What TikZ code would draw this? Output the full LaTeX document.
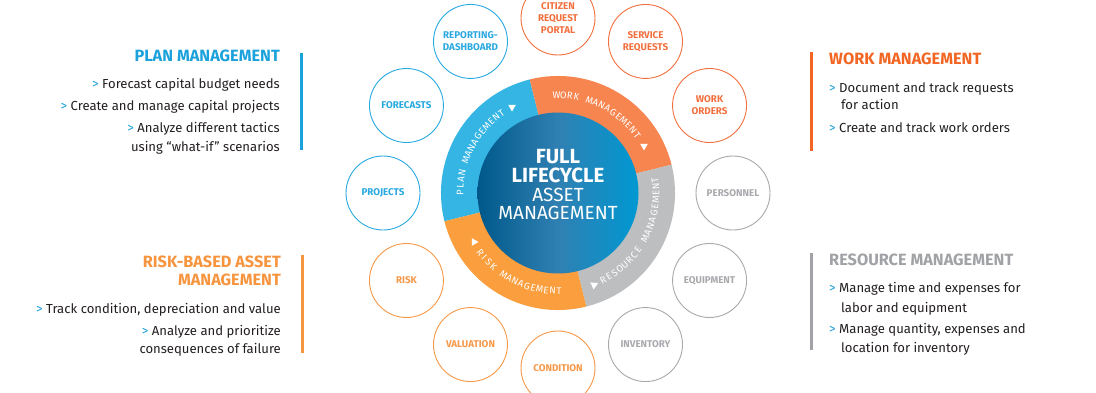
\documentclass[tikz,border=0pt]{standalone}
\usepackage{fontspec}
\setmainfont{Fira Sans}
\usetikzlibrary{shapes.geometric}
\definecolor{planring}{RGB}{53,181,228}
\definecolor{workring}{RGB}{247,133,79}
\definecolor{resring}{RGB}{188,190,192}
\definecolor{riskring}{RGB}{250,158,62}
\definecolor{plantitle}{RGB}{27,161,219}
\definecolor{worktitle}{RGB}{242,101,34}
\definecolor{risktitle}{RGB}{247,148,62}
\definecolor{restitle}{RGB}{160,162,165}
\definecolor{satblue}{RGB}{41,169,224}
\definecolor{satwork}{RGB}{242,112,62}
\definecolor{satrisk}{RGB}{247,152,72}
\definecolor{satgray}{RGB}{167,169,172}
\definecolor{bodytext}{RGB}{35,31,32}
\definecolor{markblue}{RGB}{27,161,219}
\definecolor{coreleft}{RGB}{0,88,138}
\definecolor{coremid}{RGB}{48,128,178}
\definecolor{coreright}{RGB}{0,152,210}
\newcommand\mk{{\color{markblue}>}\ }
\newcommand\ringword[6]{% name, center angle, step, count, rotation offset, letters
  \foreach \ch [count=\k] in {#6} {
    \pgfmathsetmacro\ang{#2 + (\k - (#4+1)/2)*(#3)}
    \pgfmathsetmacro\rot{\ang + (#5)}
    \node[ringlbl, rotate=\rot] (#1-\k) at (\ang:98) {\ch};
  }}
\begin{document}
\begin{tikzpicture}[x=1pt,y=1pt,
  sat/.style={circle, draw=#1, line width=0.9pt, minimum size=74pt, inner sep=0pt,
    text=#1, align=center, font=\fontsize{9.8}{12}\selectfont\bfseries},
  ringlbl/.style={text=white, inner sep=0pt, font=\fontsize{9.6}{10}\selectfont},
  tri/.style={regular polygon, regular polygon sides=3, fill=white, draw=none,
    minimum size=9pt, inner sep=0pt},
  ptitle/.style={inner sep=0pt, font=\fontsize{16.3}{18}\selectfont\bfseries},
  pline/.style={inner sep=0pt, text=bodytext, font=\fontsize{13.1}{15}\selectfont},
  core/.style={inner sep=0pt, text=white, font=\fontsize{19}{21}\selectfont},
  corebold/.style={core, font=\fontsize{20.5}{22}\selectfont\bfseries},
  bar/.style={line width=3pt}]
\useasboundingbox (0,0) rectangle (1096,392);
\fill[white] (0,0) rectangle (1096,392);
\begin{scope}[shift={(558,199)}]
  % ring segments
  \fill[planring] (104:80) -- (104:117) arc[start angle=104, end angle=194, radius=117]
    -- (194:80) arc[start angle=194, end angle=104, radius=80] -- cycle;
  \fill[workring] (14:80) -- (14:117) arc[start angle=14, end angle=104, radius=117]
    -- (104:80) arc[start angle=104, end angle=14, radius=80] -- cycle;
  \fill[resring] (-76:80) -- (-76:117) arc[start angle=-76, end angle=14, radius=117]
    -- (14:80) arc[start angle=14, end angle=-76, radius=80] -- cycle;
  \fill[riskring] (194:80) -- (194:117) arc[start angle=194, end angle=284, radius=117]
    -- (284:80) arc[start angle=284, end angle=194, radius=80] -- cycle;
  % core
  \shade[left color=coreleft, right color=coreright, middle color=coremid] (0,0) circle (80.5);
  \node[corebold] (full) at (0,36) {FULL};
  \node[corebold] (lifecycle) at (0,18) {LIFECYCLE};
  \node[core] (asset) at (0,-2) {ASSET};
  \node[core] (mgmt) at (0,-20) {MANAGEMENT};
  % ring labels
  \ringword{planlbl}{152.5}{-3.9}{15}{-90}{P,L,A,N, ,M,A,N,A,G,E,M,E,N,T}
  \ringword{worklbl}{63.5}{-3.9}{15}{-90}{W,O,R,K, ,M,A,N,A,G,E,M,E,N,T}
  \ringword{reslbl}{-27.5}{3.9}{19}{90}{R,E,S,O,U,R,C,E, ,M,A,N,A,G,E,M,E,N,T}
  \ringword{risklbl}{244}{3.8}{15}{90}{R,I,S,K, ,M,A,N,A,G,E,M,E,N,T}
  % satellites
  \node[sat=satwork] (citizen) at (90:175) {CITIZEN\\REQUEST\\PORTAL};
  \node[sat=satwork] (service) at (60:175) {SERVICE\\REQUESTS};
  \node[sat=satwork] (workorders) at (30:175) {WORK\\ORDERS};
  \node[sat=satgray] (personnel) at (0:175) {PERSONNEL};
  \node[sat=satgray] (equipment) at (-30:175) {EQUIPMENT};
  \node[sat=satgray] (inventory) at (-60:175) {INVENTORY};
  \node[sat=satrisk] (condition) at (-90:175) {CONDITION};
  \node[sat=satrisk] (valuation) at (-120:175) {VALUATION};
  \node[sat=satrisk] (risk) at (-150:175) {RISK};
  \node[sat=satblue] (projects) at (180:175) {PROJECTS};
  \node[sat=satblue] (forecasts) at (150:175) {FORECASTS};
  \node[sat=satblue] (reporting) at (120:175) {REPORTING-\\DASHBOARD};
\end{scope}
% triangles
\node[tri, rotate=180] (triplan) at (512,285) {};
\node[tri, rotate=180] (triwork) at (644,246) {};
\node[tri, rotate=-90] (tririsk) at (474,150) {};
\node[tri, rotate=55] (trires) at (594,107) {};
% plan panel
\draw[bar, plantitle] (301,339) coordinate (pb1) -- (301,242) coordinate (pb2);
\node[ptitle, text=plantitle, anchor=mid east] (plant) at (280,333) {PLAN MANAGEMENT};
\node[pline, anchor=mid east] (pl1) at (280,306) {\mk Forecast capital budget needs};
\node[pline, anchor=mid east] (pl2) at (280,284) {\mk Create and manage capital projects};
\node[pline, anchor=mid east] (pl3) at (280,262) {\mk Analyze different tactics};
\node[pline, anchor=mid east] (pl4) at (280,243) {using “what-if” scenarios};
% risk panel
\draw[bar, risktitle] (302,137) coordinate (rb1) -- (302,39) coordinate (rb2);
\node[ptitle, text=risktitle, anchor=mid east] (riskt1) at (281,127) {RISK-BASED ASSET};
\node[ptitle, text=risktitle, anchor=mid east] (riskt2) at (281,109) {MANAGEMENT};
\node[pline, anchor=mid east] (rl1) at (281,81) {\mk Track condition, depreciation and value};
\node[pline, anchor=mid east] (rl2) at (281,59) {\mk Analyze and prioritize};
\node[pline, anchor=mid east] (rl3) at (281,41) {consequences of failure};
% work panel
\draw[bar, worktitle] (811.5,340) coordinate (wb1) -- (811.5,241) coordinate (wb2);
\node[ptitle, text=worktitle, anchor=mid west] (workt) at (829,330) {WORK MANAGEMENT};
\node[pline, anchor=mid west] (wl1) at (829,302) {\mk Document and track requests};
\node[pline, anchor=mid west] (wl2) at (841,285) {for action};
\node[pline, anchor=mid west] (wl3) at (829,262) {\mk Create and track work orders};
% resource panel
\draw[bar, restitle] (811.5,139) coordinate (sb1) -- (811.5,42) coordinate (sb2);
\node[ptitle, text=restitle, anchor=mid west] (rest) at (829,129) {RESOURCE MANAGEMENT};
\node[pline, anchor=mid west] (sl1) at (829,102) {\mk Manage time and expenses for};
\node[pline, anchor=mid west] (sl2) at (841,82) {labor and equipment};
\node[pline, anchor=mid west] (sl3) at (829,61) {\mk Manage quantity, expenses and};
\node[pline, anchor=mid west] (sl4) at (841,42) {location for inventory};
\end{tikzpicture}
\end{document}
